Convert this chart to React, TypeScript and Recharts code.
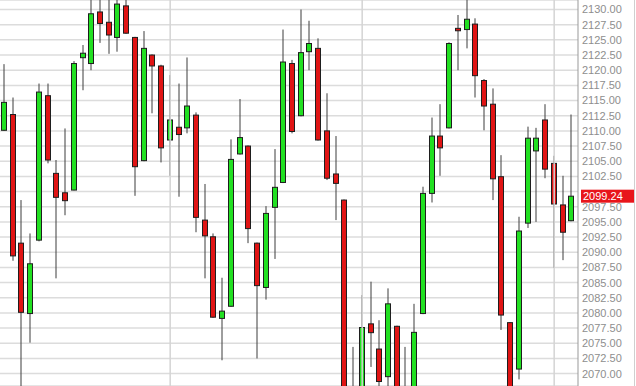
import { ComposedChart, Bar, XAxis, YAxis, CartesianGrid, ReferenceLine } from 'recharts'

// daily OHLC, oldest first
const opens = [
  2110.1, 2112.7, 2091.5, 2079.9, 2092.0, 2115.8, 2103.0, 2099.8, 2100.25, 2122.06,
  2121.1, 2129.6, 2127.9, 2125.4, 2130.6, 2125.4, 2105.1, 2122.5, 2120.7, 2108.5,
  2110.6, 2110.5, 2112.6, 2095.3, 2092.55, 2079.1, 2081.1, 2106.2, 2107.5, 2091.5,
  2084.2, 2097.4, 2101.5, 2121.1, 2112.5, 2123.05, 2123.6, 2110.0, 2102.9, 2098.6,
  2065.5, 2066.5, 2078.2, 2074.05, 2069.5, 2077.8, 2066.5, 2067.5, 2079.9, 2099.7,
  2109.15, 2110.5, 2126.9, 2126.7, 2127.6, 2118.3, 2114.4, 2102.45, 2078.4, 2070.75,
  2094.8, 2106.7, 2111.8, 2104.65, 2097.8, 2095.2,
]
const highs = [
  2121.0, 2115.5, 2098.6, 2093.1, 2117.8, 2117.8, 2105.2, 2110.4, 2121.5, 2124.15,
  2133.0, 2132.5, 2132.0, 2133.0, 2132.0, 2125.5, 2126.45, 2122.6, 2120.9, 2119.2,
  2117.8, 2122.1, 2113.05, 2101.25, 2093.1, 2085.8, 2108.6, 2115.25, 2107.6, 2091.6,
  2097.6, 2107.0, 2126.7, 2121.7, 2130.0, 2128.15, 2125.25, 2116.2, 2109.15, 2098.7,
  2074.4, 2082.95, 2085.15, 2078.8, 2084.05, 2077.9, 2074.4, 2081.5, 2100.8, 2112.2,
  2114.4, 2124.6, 2129.1, 2133.0, 2128.55, 2118.55, 2117.0, 2106.0, 2078.5, 2095.85,
  2110.7, 2110.5, 2114.4, 2105.9, 2102.6, 2112.7,
]
const lows = [
  2110.0, 2088.6, 2066.0, 2075.1, 2091.8, 2104.65, 2085.7, 2096.1, 2100.2, 2116.7,
  2120.0, 2124.5, 2122.7, 2123.05, 2126.0, 2099.3, 2105.0, 2112.9, 2104.8, 2102.6,
  2099.15, 2109.6, 2093.3, 2085.7, 2079.2, 2072.2, 2081.0, 2106.1, 2091.5, 2072.5,
  2082.2, 2088.9, 2101.4, 2109.6, 2112.4, 2120.0, 2108.4, 2101.9, 2095.3, 2064.5,
  2063.0, 2065.0, 2071.1, 2066.5, 2066.8, 2065.5, 2064.0, 2066.0, 2079.8, 2098.2,
  2102.6, 2110.4, 2120.0, 2123.6, 2115.5, 2110.1, 2098.6, 2077.2, 2066.5, 2069.05,
  2094.0, 2095.0, 2102.2, 2087.45, 2088.7, 2095.1,
]
const closes = [
  2114.7, 2089.4, 2080.1, 2088.1, 2116.4, 2105.2, 2099.05, 2098.5, 2121.1, 2122.8,
  2129.3, 2127.7, 2125.8, 2130.9, 2126.1, 2104.1, 2123.6, 2120.7, 2107.2, 2111.8,
  2109.4, 2114.1, 2095.75, 2092.7, 2079.3, 2080.3, 2105.3, 2108.9, 2093.9, 2084.5,
  2096.4, 2100.7, 2121.35, 2109.9, 2122.9, 2124.4, 2108.5, 2102.2, 2101.35, 2066.0,
  2067.0, 2077.6, 2076.75, 2068.7, 2081.5, 2066.8, 2067.5, 2076.8, 2099.7, 2109.15,
  2107.2, 2124.4, 2126.5, 2128.4, 2119.1, 2114.1, 2102.1, 2079.65, 2067.5, 2093.5,
  2108.8, 2108.8, 2103.7, 2097.95, 2093.3, 2099.24,
]

const lastPrice = 2099.24
const priceTicks = [
  2070, 2072.5, 2075, 2077.5, 2080, 2082.5, 2085, 2087.5, 2090, 2092.5, 2095, 2097.5,
  2100, 2102.5, 2105, 2107.5, 2110, 2112.5, 2115, 2117.5, 2120, 2122.5, 2125, 2127.5, 2130,
]
// candles that carry a period separator
const separators = [19, 41, 63]

const days = opens.map((_, i) => `${i + 1}`)
const data = days.map((day, i) => ({
  day,
  open: opens[i],
  high: highs[i],
  low: lows[i],
  close: closes[i],
}))

const UP = '#22e022'
const DOWN = '#e01414'
const FONT = '"Liberation Sans", Arial, sans-serif'

function Candle(props: any) {
  const { x, y, width, height, payload } = props
  const { open, close, high, low } = payload
  const top = Math.min(y, y + height)
  const h = Math.abs(height)
  const toY = (v: number) => top + ((high - v) / (high - low)) * h
  const left = Math.round(x)
  const cx = left + 3
  const bodyTop = toY(Math.max(open, close))
  const bodyBottom = toY(Math.min(open, close))
  return (
    <g>
      <line x1={cx} x2={cx} y1={top} y2={top + h} stroke="#3c3c3c" strokeWidth={1} />
      <rect
        x={left + 0.5}
        y={bodyTop}
        width={width - 1}
        height={Math.max(bodyBottom - bodyTop, 1.5)}
        fill={close >= open ? UP : DOWN}
        stroke="#1e1e1e"
        strokeWidth={1}
      />
    </g>
  )
}

// price labels, skipping the one hidden under the last-price tag
function PriceTick(props: any) {
  const { x, y, payload } = props
  if (Math.abs(payload.value - lastPrice) < 1.5) return null
  return (
    <text x={x} y={y} dy="0.355em" fill="#8e8e8e" fontSize={11} fontFamily={FONT} textAnchor="start">
      {payload.value.toFixed(2)}
    </text>
  )
}

function PriceTag(props: any) {
  const { viewBox } = props
  const x = viewBox.x + viewBox.width + 3
  const y = viewBox.y
  return (
    <g>
      <rect x={x} y={y - 6.5} width={54} height={13} fill="#e8151b" />
      <text x={x + 2} y={y} dy="0.355em" fill="#ffffff" fontSize={11} fontFamily={FONT}>
        {lastPrice.toFixed(2)}
      </text>
    </g>
  )
}

export default function App() {
  return (
    <div style={{ position: 'absolute', left: 0, top: 0, width: 636, height: 386, background: '#fff' }}>
      <ComposedChart width={636} height={386} data={data} margin={{ top: 0, right: 0, bottom: 0, left: 0 }} barCategoryGap={0}>
        <CartesianGrid stroke="#dcdcdc" strokeWidth={1.5} vertical={false} />
        <XAxis dataKey="day" hide padding={{ left: 0, right: 2 }} />
        <YAxis
          orientation="right"
          domain={[2067.96, 2131.57]}
          allowDataOverflow
          ticks={priceTicks}
          interval={0}
          width={58}
          tickSize={0}
          tickMargin={4}
          axisLine={{ stroke: '#999999' }}
          tickLine={false}
          tick={<PriceTick />}
        />
        {separators.map((i) => (
          <ReferenceLine key={i} x={days[i]} stroke="#d4d4d4" strokeWidth={1.5} />
        ))}
        <Bar
          dataKey={(d: any) => [d.low, d.high]}
          barSize={6}
          shape={<Candle />}
          isAnimationActive={false}
        />
        <ReferenceLine y={lastPrice} stroke="none" label={<PriceTag />} />
      </ComposedChart>
      <div style={{ position: 'absolute', left: 634, top: 0, width: 1, height: 386, background: '#cfcfcf' }} />
    </div>
  )
}
